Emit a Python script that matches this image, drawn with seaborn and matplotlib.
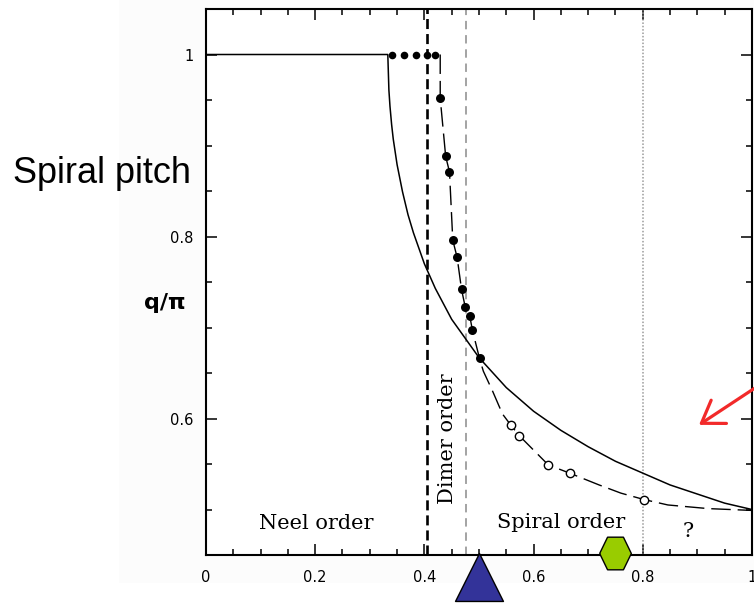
import numpy as np
import pandas as pd
import matplotlib
matplotlib.use("Agg")
import matplotlib.pyplot as plt
from matplotlib.ticker import MultipleLocator, FixedLocator, FixedFormatter
from matplotlib.patches import Rectangle
import seaborn as sns

# ---- data -------------------------------------------------------------
# classical spiral pitch (solid curve)
classical_x = [0.0, 0.333, 0.335, 0.337, 0.340, 0.343, 0.350, 0.360, 0.370,
               0.380, 0.400, 0.420, 0.450, 0.500, 0.550, 0.600, 0.650, 0.700,
               0.750, 0.800, 0.850, 0.900, 0.950, 1.000]
classical_y = [1.0, 1.0, 0.961, 0.943, 0.923, 0.907, 0.879, 0.849, 0.824,
               0.804, 0.770, 0.743, 0.709, 0.667, 0.634, 0.608, 0.587, 0.569,
               0.553, 0.540, 0.527, 0.517, 0.507, 0.500]

# quantum pitch (long-dashed curve through the symbols)
quantum_x = [0.429, 0.429, 0.439, 0.446, 0.452, 0.460, 0.468, 0.475, 0.483,
             0.488, 0.501, 0.508, 0.525, 0.543, 0.558, 0.574, 0.627, 0.666,
             0.720, 0.760, 0.802, 0.846, 0.920, 1.000]
quantum_y = [1.0, 0.952, 0.888, 0.871, 0.796, 0.777, 0.742, 0.722, 0.713,
             0.697, 0.666, 0.652, 0.630, 0.605, 0.593, 0.581, 0.549, 0.540,
             0.527, 0.518, 0.511, 0.505, 0.501, 0.499]

# commensurate plateau (row of dots at q = pi)
plateau_x = [0.341, 0.363, 0.384, 0.404, 0.420]
plateau_y = [1.0, 1.0, 1.0, 1.0, 1.0]

# numerical results, filled and open symbols
filled_x = [0.429, 0.439, 0.446, 0.452, 0.460, 0.468, 0.475, 0.483, 0.488, 0.501]
filled_y = [0.952, 0.888, 0.871, 0.796, 0.777, 0.742, 0.722, 0.713, 0.697, 0.666]
open_x = [0.558, 0.574, 0.627, 0.666, 0.802]
open_y = [0.593, 0.581, 0.549, 0.540, 0.511]

# phase boundaries
dimer_onset = 0.405
dimer_end = 0.477
spiral_end = 0.80

# markers on the x axis
triangle_x = 0.50
hexagon_x = 0.75

x_ticks = [0, 0.2, 0.4, 0.6, 0.8, 1.0]
x_tick_labels = ["0", "0.2", "0.4", "0.6", "0.8", "1"]
y_ticks = [0.6, 0.8, 1.0]
y_tick_labels = ["0.6", "0.8", "1"]

# ---- figure -----------------------------------------------------------
sns.set_style("ticks")
plt.rcParams["font.family"] = ["DejaVu Sans"]
for key in ("text.color", "axes.labelcolor", "xtick.color", "ytick.color",
            "axes.edgecolor"):
    plt.rcParams[key] = "black"

fig = plt.figure(figsize=(7.54, 6.04), dpi=100)
fig.patch.set_facecolor("white")
backdrop = Rectangle((119 / 754, 1 - 583 / 604), 1.0, 1.0,
                     transform=fig.transFigure, facecolor="#fcfcfc",
                     edgecolor="none", zorder=-10)
fig.patches.append(backdrop)

ax = fig.add_axes([0.2732, 0.0811, 0.7241, 0.9040])
ax.set_facecolor("white")
ax.set_xlim(0, 1)
ax.set_ylim(0.45, 1.05)

# phase boundary lines
ax.axvline(dimer_onset, color="black", lw=1.9, ls=(0, (3.8, 1.9)), zorder=2)
ax.axvline(dimer_end, color="#8a8a8a", lw=1.1, ls=(0, (5.5, 3.8)), zorder=2)
ax.axvline(spiral_end, color="#9a9a9a", lw=1.1, ls=(0, (1.0, 1.2)), zorder=2)

classical = pd.DataFrame({"x": classical_x, "y": classical_y})
quantum = pd.DataFrame({"x": quantum_x, "y": quantum_y})

sns.lineplot(data=classical, x="x", y="y", sort=False, estimator=None,
             color="black", lw=1.1, ax=ax, zorder=3)
sns.lineplot(data=quantum, x="x", y="y", sort=False, estimator=None,
             color="black", lw=1.0, ax=ax, zorder=3)
ax.lines[-1].set_linestyle((0, (14, 5)))

sns.scatterplot(x=plateau_x, y=plateau_y, color="black", s=30,
                linewidth=0, ax=ax, zorder=4)
sns.scatterplot(x=filled_x, y=filled_y, color="black", s=42,
                linewidth=0, ax=ax, zorder=4)
sns.scatterplot(x=open_x, y=open_y, facecolor="white", edgecolor="black",
                s=36, linewidth=1.0, ax=ax, zorder=4)

# region labels
serif = "DejaVu Serif"
ax.text(0.202, 0.479, "Neel order", ha="center", va="baseline",
        fontsize=15, family=serif)
ax.text(0.650, 0.4797, "Spiral order", ha="center", va="baseline",
        fontsize=15, family=serif)
ax.text(0.884, 0.470, "?", ha="center", va="baseline",
        fontsize=15, family=serif)
ax.text(0.443, 0.578, "Dimer order", ha="center", va="center",
        rotation=90, fontsize=15, family=serif)

# ticks
ax.xaxis.set_major_locator(FixedLocator(x_ticks))
ax.xaxis.set_major_formatter(FixedFormatter(x_tick_labels))
ax.yaxis.set_major_locator(FixedLocator(y_ticks))
ax.yaxis.set_major_formatter(FixedFormatter(y_tick_labels))
ax.xaxis.set_minor_locator(MultipleLocator(0.05))
ax.yaxis.set_minor_locator(MultipleLocator(0.05))
ax.tick_params(which="both", direction="in", top=True, right=True,
               color="black", width=1.1)
ax.tick_params(which="major", length=8)
ax.tick_params(which="minor", length=4)
ax.tick_params(axis="x", which="major", pad=11, labelsize=10.5)
ax.tick_params(axis="y", which="major", pad=9, labelsize=10.5)
for s in ax.spines.values():
    s.set_linewidth(1.5)
    s.set_color("black")
    s.set_visible(True)
ax.set_xlabel("")
ax.set_ylabel("")

# markers sitting on the x axis
sns.scatterplot(x=[triangle_x], y=[0.4258], marker="^", s=34.5 ** 2,
                color="#333399", edgecolor="black", linewidth=1.0,
                ax=ax, zorder=6)
ax.collections[-1].set_clip_on(False)
hex_verts = [(-1, 0), (-0.5, 1.03), (0.5, 1.03), (1, 0), (0.5, -1.03),
             (-0.5, -1.03), (-1, 0)]
sns.scatterplot(x=[hexagon_x], y=[0.4522], marker=hex_verts, s=23.5 ** 2,
                color="#99cc00", edgecolor="black", linewidth=1.0,
                ax=ax, zorder=6)
ax.collections[-1].set_clip_on(False)

# red pointer arrow
ax.annotate("", xy=(0.903, 0.593), xytext=(1.044, 0.6488),
            arrowprops=dict(arrowstyle="->,head_length=0.75,head_width=0.5",
                            color="#f22a2a", lw=2.3, mutation_scale=20,
                            shrinkA=0, shrinkB=0),
            annotation_clip=False, zorder=7)

# axis title and heading
fig.text(0.2182, 1 - 309 / 604, "q/\u03c0", ha="center", va="baseline",
         fontsize=16, fontweight="bold", family="DejaVu Sans")
fig.text(12.5 / 754, 1 - 183 / 604, "Spiral pitch", ha="left", va="baseline",
         fontsize=26, family="Liberation Sans")

fig.savefig("out.png", dpi=100)
